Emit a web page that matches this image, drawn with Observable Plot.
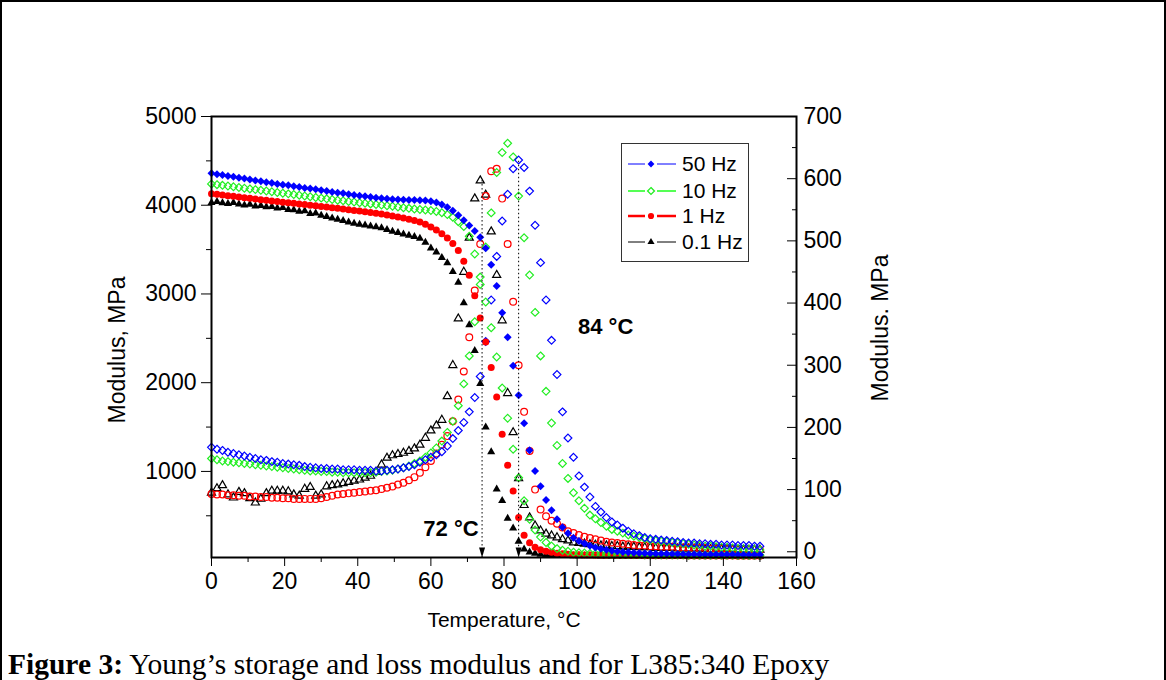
<!DOCTYPE html>
<html><head><meta charset="utf-8">
<script src="https://cdn.jsdelivr.net/npm/d3@7"></script>
<script src="https://cdn.jsdelivr.net/npm/@observablehq/plot@0.6"></script>
<style>
body{margin:0;background:#fff;}
#wrap{position:relative;width:1166px;height:680px;overflow:hidden;background:#fff;font-family:"Liberation Sans",Arial,sans-serif;color:#000;}
.abs{position:absolute;white-space:nowrap;}
</style></head><body>
<div id="wrap">
  <div id="chart" class="abs" style="left:0;top:0"></div>
  <div class="abs" style="left:117px;top:350px;transform:translate(-50%,-50%) rotate(-90deg);font-size:23px;">Modulus, MPa</div>
  <div class="abs" style="left:880px;top:328px;transform:translate(-50%,-50%) rotate(-90deg);font-size:23px;">Modulus. MPa</div>
  <div class="abs" style="left:504px;top:620px;transform:translate(-50%,-50%);font-size:21px;">Temperature, °C</div>
  <div id="legend" class="abs" style="left:621px;top:143px;"></div>
  <div class="abs" style="left:8px;top:664px;transform:translateY(-50%);font-family:'Liberation Serif','Times New Roman',serif;font-size:29.5px;"><b>Figure 3:</b> Young’s storage and loss modulus and for L385:340 Epoxy</div>
  <div class="abs" style="left:0;top:0;width:1166px;height:700px;box-sizing:border-box;border-left:2px solid #000;border-top:2px solid #000;border-right:2px solid #000;"></div>
</div>
<script>
// Temperature, °C
const T = [0,1.5,3,4.5,6,7.5,9,10.5,12,13.5,15,16.5,18,19.5,21,22.5,24,25.5,27,28.5,30,31.5,33,34.5,36,37.5,39,40.5,42,43.5,45,46.5,48,49.5,51,52.5,54,55.5,57,58.5,60,61.5,63,64.5,66,67.5,69,70.5,72,73.5,75,76.5,78,79.5,81,82.5,84,85.5,87,88.5,90,91.5,93,94.5,96,97.5,99,100.5,102,103.5,105,106.5,108,109.5,111,112.5,114,115.5,117,118.5,120,121.5,123,124.5,126,127.5,129,130.5,132,133.5,135,136.5,138,139.5,141,142.5,144,145.5,147,148.5,150];

// Storage modulus (left axis, MPa)
const storage50 = [4360,4350,4340,4330,4320,4310,4300,4290,4280,4270,4260,4250,4240,4232,4225,4215,4205,4195,4188,4180,4170,4160,4150,4142,4135,4125,4116,4108,4100,4092,4085,4078,4072,4068,4065,4062,4060,4058,4056,4054,4045,4030,4008,3978,3938,3888,3832,3772,3710,3640,3515,3330,3090,2788,2512,2190,1858,1544,1240,1006,834,679,562,460,370,303,253,216,188,163,143,129,116,106,99,93,88,84,80,77,75,73,72,71,70,69,68,67,66,66,65,65,64,64,63,63,62,62,61,61,60];
const storage10 = [4240,4232,4224,4216,4208,4200,4192,4184,4176,4168,4160,4152,4144,4136,4128,4120,4112,4104,4096,4088,4080,4072,4064,4056,4050,4042,4036,4028,4022,4015,4008,4002,3995,3988,3980,3972,3965,3958,3952,3946,3940,3930,3915,3895,3865,3815,3760,3650,3450,3190,2910,2620,2290,1940,1600,1250,930,670,460,340,260,200,160,130,112,100,90,84,80,76,73,71,69,67,66,65,64,63,63,62,62,62,61,61,60,60,60,59,59,59,58,58,58,57,57,57,56,56,56,55,55];
const storage1 = [4130,4123,4116,4108,4100,4092,4085,4078,4070,4063,4056,4049,4042,4035,4028,4021,4014,4007,4000,3993,3986,3979,3972,3965,3958,3950,3942,3934,3926,3918,3910,3900,3890,3880,3868,3856,3843,3828,3810,3785,3755,3720,3680,3630,3570,3490,3370,3210,2980,2730,2460,2170,1840,1420,1070,780,480,280,195,145,118,100,88,78,71,66,62,60,58,57,56,55,55,54,54,53,53,52,52,51,51,50,50,50,49,49,49,48,48,48,47,47,47,46,46,46,45,45,45,45,45];
const storage01 = [4030,4040,4025,4018,4030,4012,4000,4008,3990,3995,3980,3985,3968,3972,3950,3948,3930,3935,3905,3910,3885,3870,3855,3840,3825,3810,3795,3785,3775,3765,3755,3745,3725,3705,3690,3675,3660,3645,3625,3580,3515,3470,3410,3350,3250,3130,2900,2650,2360,1990,1500,1220,800,670,470,360,210,125,90,75,66,61,57,54,52,50,49,48,48,47,47,46,46,45,45,45,44,44,44,43,43,43,43,42,42,42,42,42,41,41,41,41,41,40,40,40,40,40,40,40,40];

// Loss modulus (right axis, MPa)
const loss50 = [168,165,163,160,158,156,154,152,150,148,147,145,144,142,141,140,139,137,136,135,134,134,133,133,132,132,132,131,131,131,130,130,131,132,133,135,137,140,144,148,152,156,161,170,182,195,208,225,248,282,338,405,475,532,575,616,630,618,580,525,465,405,340,285,225,183,152,122,104,88,73,64,55,48,43,38,33,29,26,23,21,20,19,18,17,16,15,14,14,13,13,12,12,11,11,11,10,10,10,9,9];
const loss10 = [150,148,146,145,144,143,142,141,140,139,138,137,136,135,134,133,132,131,130,130,129,129,128,128,127,127,127,127,127,127,128,129,130,131,133,135,138,142,146,152,159,167,178,192,210,235,270,315,370,430,490,545,610,642,657,635,572,505,445,385,315,258,207,171,142,118,95,82,70,59,53,47,41,36,33,30,27,25,23,21,19,18,17,16,15,14,13,12,11,10,9,9,8,7,7,6,5,5,4,4,3];
const loss1 = [93,92,92,91,91,90,90,89,89,88,88,87,87,86,86,85,85,85,85,85,86,88,90,92,93,94,95,96,97,98,99,101,103,105,108,111,115,120,127,136,146,158,172,186,210,245,290,345,420,495,572,612,616,568,495,402,300,225,162,100,68,57,50,45,39,33,30,27,24,22,20,18,16,15,14,13,12,11,10,10,9,9,8,8,8,7,7,7,6,6,6,5,5,5,5,4,4,4,4,3,3];
const loss01 = [95,102,107,92,87,96,94,86,79,85,94,98,98,98,97,92,90,101,104,90,92,105,107,108,110,112,114,116,119,122,128,140,151,155,157,159,162,166,172,183,195,203,212,250,300,375,450,505,568,597,574,515,445,372,255,192,118,75,55,42,34,29,26,23,20,18,15,14,13,12,11,10,10,9,9,8,8,8,7,7,7,6,6,6,6,5,5,5,5,5,4,4,4,4,4,4,3,3,3,3,3];

// Axes
const xDomain = [0, 160];
const leftDomain = [30, 5000];
const rightDomain = [-9.2, 700];
const xTicks = [0,20,40,60,80,100,120,140,160];
const xMinorTicks = [10,30,50,70,90,110,130,150];
const leftTicks = [1000,2000,3000,4000,5000];
const leftMinorTicks = [500,1500,2500,3500,4500];
const rightTicks = [0,100,200,300,400,500,600,700];
const rightMinorTicks = [50,150,250,350,450,550,650];

// Annotations
const peakT = [74, 84];
const peakLoss = [597, 628];
const noteT = [65.5, 107.8];
const noteE = [355, 2630];
const noteText = ["72 °C", "84 °C"];

const legendLabels = ["50 Hz","10 Hz","1 Hz","0.1 Hz"];

const BLUE = "#0000ff", GREEN = "#22ee22", RED = "#ff0000", BLACK = "#000000";
const toLeft = d3.scaleLinear().domain(rightDomain).range(leftDomain);

const series = [
  {values: loss01, right: true, color: BLACK, symbol: "triangle", r: 3, filled: false},
  {values: loss1, right: true, color: RED, symbol: "circle", r: 3.4, filled: false},
  {values: loss10, right: true, color: GREEN, symbol: "diamond2", r: 3.5, filled: false},
  {values: loss50, right: true, color: BLUE, symbol: "diamond2", r: 3.5, filled: false},
  {values: storage01, right: false, color: BLACK, symbol: "triangle", r: 3, filled: true},
  {values: storage1, right: false, color: RED, symbol: "circle", r: 3.5, filled: true},
  {values: storage10, right: false, color: GREEN, symbol: "diamond2", r: 3.5, filled: false},
  {values: storage50, right: false, color: BLUE, symbol: "diamond2", r: 3.6, filled: true}
];

const dotMarks = series.map(s => Plot.dot(
  T.map((t, i) => ({T: t, E: s.right ? toLeft(s.values[i]) : s.values[i]})),
  {x: "T", y: "E", symbol: s.symbol, r: s.r,
   fill: s.filled ? s.color : "none",
   stroke: s.filled ? "none" : s.color,
   strokeWidth: 1.2}
));

const arrowHead = {draw(ctx, size) { ctx.moveTo(0, 5); ctx.lineTo(-3, -5); ctx.lineTo(3, -5); ctx.closePath(); }};
const peaks = peakT.map((t, i) => ({T: t, top: toLeft(peakLoss[i])}));
const notes = noteT.map((t, i) => ({T: t, E: noteE[i], text: noteText[i]}));

const chart = Plot.plot({
  width: 1166, height: 600,
  marginLeft: 211, marginRight: 370, marginTop: 116, marginBottom: 43,
  x: {domain: xDomain},
  y: {domain: leftDomain},
  style: {fontFamily: "'Liberation Sans', Arial, sans-serif", fontSize: "23px", color: "#000", background: "transparent", overflow: "visible"},
  marks: [
    ...dotMarks,
    Plot.ruleX(peaks, {x: "T", y1: "top", y2: () => leftDomain[0], stroke: "#000", strokeWidth: 1, strokeDasharray: "1.5,2.5"}),
    Plot.dot(peaks, {x: "T", frameAnchor: "bottom", symbol: arrowHead, fill: "#000", stroke: "none", dy: -5, r: 4}),
    Plot.text(notes, {x: "T", y: "E", text: "text", fontWeight: "bold", fontSize: 22}),
    Plot.axisX(xTicks, {tickSize: 9, tickPadding: 6, tickFormat: d => String(d), label: null}),
    Plot.axisX(xMinorTicks, {tickSize: 5, tickFormat: () => "", label: null}),
    Plot.axisY(leftTicks, {anchor: "left", tickSize: 10, tickPadding: 5, tickFormat: d => String(d), label: null}),
    Plot.axisY(leftMinorTicks, {anchor: "left", tickSize: 5, tickFormat: () => "", label: null}),
    Plot.axisY(rightTicks.map(toLeft), {anchor: "right", tickSize: 10, dx: -10, tickFormat: () => "", label: null}),
    Plot.axisY(rightMinorTicks.map(toLeft), {anchor: "right", tickSize: 5, dx: -5, tickFormat: () => "", label: null}),
    Plot.axisY(rightTicks.map(toLeft), {anchor: "right", tickSize: 0, tickPadding: 7, tickFormat: d => String(Math.round(toLeft.invert(d))), label: null}),
    Plot.frame({stroke: "#000", strokeWidth: 2})
  ]
});
document.getElementById("chart").appendChild(chart);

// Legend
const legendStyles = [
  {color: BLUE, symbol: d3.symbolDiamond2, size: 30, filled: true, lw: 1},
  {color: "#55ff55", symbol: d3.symbolDiamond2, size: 30, filled: false, lw: 2, mcolor: GREEN},
  {color: RED, symbol: d3.symbolCircle, size: 30, filled: true, lw: 2.5},
  {color: BLACK, symbol: d3.symbolTriangle, size: 22, filled: true, lw: 1}
];
const rowsY = [21, 48, 73, 99];
const lg = d3.select("#legend").append("svg").attr("width", 130).attr("height", 121);
lg.append("rect").attr("x", 0.5).attr("y", 0.5).attr("width", 127).attr("height", 118).attr("fill", "#fff").attr("stroke", "#333").attr("stroke-width", 1);
legendLabels.forEach((lab, i) => {
  const st = legendStyles[i], y = rowsY[i];
  const g = lg.append("g");
  g.append("line").attr("x1", 7).attr("x2", 24).attr("y1", y).attr("y2", y).attr("stroke", st.color).attr("stroke-width", st.lw);
  g.append("line").attr("x1", 36).attr("x2", 55).attr("y1", y).attr("y2", y).attr("stroke", st.color).attr("stroke-width", st.lw);
  const mc = st.mcolor || st.color;
  g.append("path").attr("d", d3.symbol(st.symbol, st.size)()).attr("transform", `translate(30,${y})`)
    .attr("fill", st.filled ? mc : "#fff").attr("stroke", st.filled ? "none" : mc).attr("stroke-width", 1.3);
  g.append("text").attr("x", 61).attr("y", y).attr("dy", "0.35em").attr("font-size", 21)
    .attr("font-family", "'Liberation Sans', Arial, sans-serif").text(lab);
});
</script>
</body></html>
